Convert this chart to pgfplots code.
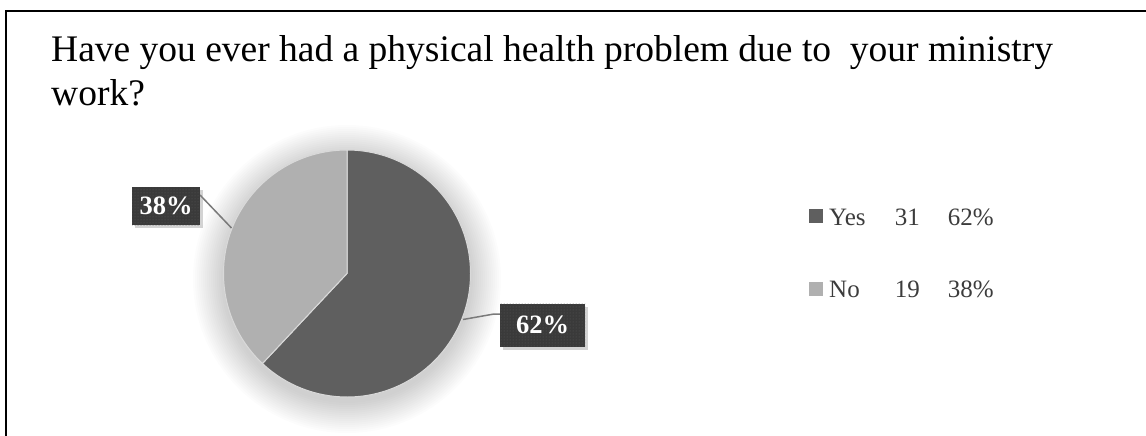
\documentclass[border=0pt]{standalone}
\usepackage{fontspec}
\setmainfont{Liberation Serif}
\usepackage{pgfplots}
\pgfplotsset{compat=1.18}
\usetikzlibrary{patterns,shadows}

\definecolor{yescol}{HTML}{5F5F5F}
\definecolor{nocol}{HTML}{B0B0B0}
\definecolor{boxcol}{HTML}{3A3A3A}
\definecolor{dotcol}{HTML}{5A5A5A}
\definecolor{legtext}{HTML}{3C3C3C}
\definecolor{leader}{HTML}{7A7A7A}

\tikzset{
  valbox/.style={fill=boxcol, text=white, inner sep=0pt, align=center,
    font=\fontsize{26.5}{26.5}\selectfont\bfseries,
    postaction={pattern=dots, pattern color=dotcol},
    drop shadow={shadow xshift=3pt, shadow yshift=-3pt, opacity=0.35}},
  legtxt/.style={text=legtext, inner sep=0pt, font=\fontsize{25}{25}\selectfont},
}

\begin{document}
\begin{tikzpicture}
% responses
\def\nyes{31}
\def\nno{19}
\pgfmathsetmacro{\angyes}{360*\nyes/(\nyes+\nno)}
\pgfmathsetmacro{\angno}{360*\nno/(\nyes+\nno)}
\pgfmathtruncatemacro{\pyes}{round(100*\nyes/(\nyes+\nno))}
\pgfmathtruncatemacro{\pno}{round(100*\nno/(\nyes+\nno))}

% soft halo under the pie (stacked faint discs)
\foreach \r in {124,126,...,154}
  \fill[black, opacity=0.011] (347pt,157pt) circle[radius=\r pt];

\begin{axis}[
  width=1146pt, height=436pt, scale only axis,
  xmin=0, xmax=1146, ymin=0, ymax=436, y dir=reverse,
  hide axis, clip=false,
]
% frame
\draw[black, line width=2.3pt] (axis cs:6.2,436) -- (axis cs:6.2,11.2) -- (axis cs:1146,11.2);

% title
\node[anchor=base west, inner sep=0pt, font=\fontsize{37.5}{45}\selectfont]
  at (axis cs:51,62) {Have you ever had a physical health problem due to\ \ your ministry};
\node[anchor=base west, inner sep=0pt, font=\fontsize{37.5}{45}\selectfont]
  at (axis cs:51,105) {work?};

% pie
\fill[yescol, draw=white!85!black, line width=1pt]
  (axis cs:347,273.5) -- ++(90:123.5pt) arc[start angle=90, end angle={90-\angyes}, radius=123.5pt] -- cycle;
\fill[nocol, draw=white!85!black, line width=1pt]
  (axis cs:347,273.5) -- ++(90:123.5pt) arc[start angle=90, end angle={90+\angno}, radius=123.5pt] -- cycle;

% leader lines
\draw[leader, line width=1.5pt] (axis cs:231.5,228) -- (axis cs:200,195);
\draw[leader, line width=1.5pt] (axis cs:463,319.5) -- (axis cs:494,314) -- (axis cs:500,314);

% value labels
\node[valbox, minimum width=68pt, minimum height=38pt] at (axis cs:166,206) {\pno\%};
\node[valbox, minimum width=85pt, minimum height=43pt] at (axis cs:542.5,325) {\pyes\%};

% legend
\fill[yescol] (axis cs:809,209) rectangle (axis cs:823,223);
\fill[nocol]  (axis cs:809,281.5) rectangle (axis cs:823,295.5);
\node[legtxt, anchor=base west] at (axis cs:829,225) {Yes};
\node[legtxt, anchor=base east] at (axis cs:920,225) {\nyes};
\node[legtxt, anchor=base east] at (axis cs:994,225) {\pyes\%};
\node[legtxt, anchor=base west] at (axis cs:829,297) {No};
\node[legtxt, anchor=base east] at (axis cs:920,297) {\nno};
\node[legtxt, anchor=base east] at (axis cs:994,297) {\pno\%};
\end{axis}
\pgfresetboundingbox
\useasboundingbox (0,0) rectangle (1146pt,436pt);
\end{tikzpicture}
\end{document}
